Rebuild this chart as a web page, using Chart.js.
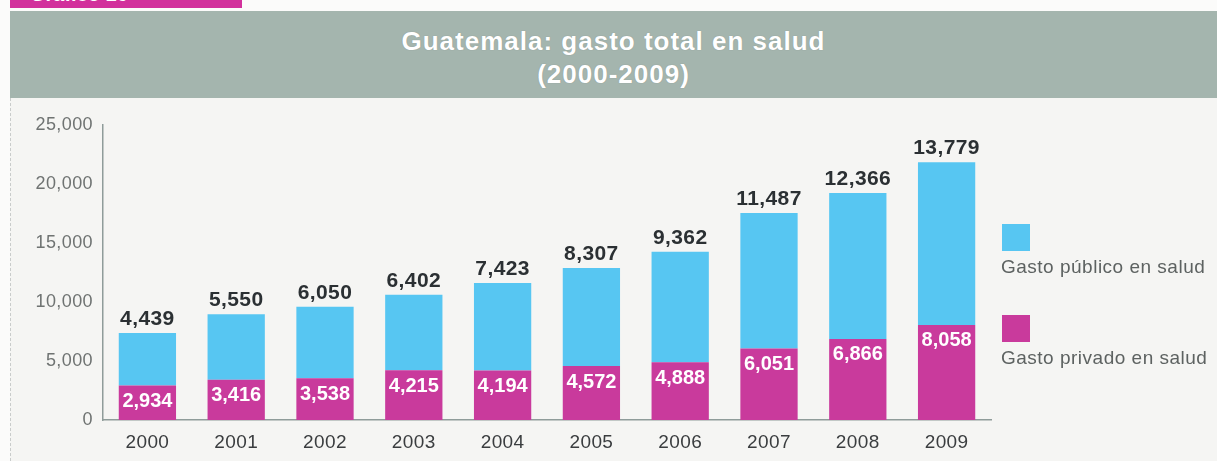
<!DOCTYPE html>
<html>
<head>
<meta charset="utf-8">
<script src="https://cdn.jsdelivr.net/npm/chart.js@4.4.0/dist/chart.umd.min.js"></script>
<style>
  body { margin: 0; width: 1217px; height: 461px; background: #fbfbfa; overflow: hidden;
         font-family: "Liberation Sans", Arial, sans-serif; position: relative; }
  #pestana { position: absolute; left: 10px; top: 0; width: 232px; height: 8px; background: #d2319c; overflow: hidden; }
  #pestana span { position: absolute; left: 20px; top: -17px; color: #fff; font-weight: bold; font-size: 20px; }
  #banda { position: absolute; left: 10px; top: 11px; right: 0; height: 87px; background: #a4b5ae;
           color: #fff; text-align: center; font-weight: bold; font-size: 26px; line-height: 33px;
           letter-spacing: 1px; box-sizing: border-box; padding-top: 14px;
           text-shadow: 0 0 1px rgba(80,80,80,.4); }
  #panel { position: absolute; left: 10px; top: 98px; right: 0; bottom: 0; background: #f5f5f3;
           border-left: 1px dashed #c9cccb; }
  #grafico { position: absolute; left: 0; top: 0; }
</style>
</head>
<body>
<div id="pestana"><span>Gráfico 16</span></div>
<div id="banda">Guatemala: gasto total en salud<br>(2000-2009)</div>
<div id="panel"></div>
<canvas id="grafico" width="1217" height="461"></canvas>
<script>
var anios = ['2000', '2001', '2002', '2003', '2004', '2005', '2006', '2007', '2008', '2009'];
var gastoPrivado = [2934, 3416, 3538, 4215, 4194, 4572, 4888, 6051, 6866, 8058];
var gastoPublico = [4439, 5550, 6050, 6402, 7423, 8307, 9362, 11487, 12366, 13779];
var ejeY = { min: 0, max: 25000, paso: 5000 };

var azul = '#57c6f2';
var magenta = '#c93a9c';
var fuente = '"Liberation Sans", Arial, sans-serif';

function fmt(v) {
    return v.toLocaleString('en-US');
}

// un poco de espacio entre letras en los ejes
var espaciado = {
    id: 'espaciado',
    beforeInit: function(chart) { chart.ctx.letterSpacing = '0.4px'; },
    beforeDraw: function(chart) { chart.ctx.letterSpacing = '0.4px'; }
};

// numeros sobre y dentro de las barras
var etiquetas = {
    id: 'etiquetas',
    afterDatasetsDraw: function(chart) {
        var ctx = chart.ctx;
        ctx.save();
        ctx.textAlign = 'center';
        ctx.textBaseline = 'middle';
        chart.data.datasets.forEach(function(ds, i) {
            var meta = chart.getDatasetMeta(i);
            meta.data.forEach(function(bar, j) {
                if (i == 1) {
                    ctx.letterSpacing = '0.4px';
                    ctx.fillStyle = '#2b3033';
                    ctx.font = 'bold 21px ' + fuente;
                    ctx.fillText(fmt(ds.data[j]), bar.x, bar.y - 14);
                } else {
                    ctx.letterSpacing = '0px';
                    ctx.fillStyle = '#ffffff';
                    ctx.font = 'bold 20px ' + fuente;
                    ctx.fillText(fmt(ds.data[j]), bar.x, bar.y + 16);
                }
            });
        });
        ctx.restore();
    }
};

// leyenda a la derecha: cuadro arriba, texto abajo
var leyenda = {
    id: 'leyenda',
    afterDraw: function(chart) {
        var ctx = chart.ctx;
        var x = chart.chartArea.right + 11;
        var y0 = 224;
        ctx.save();
        ctx.textAlign = 'left';
        ctx.textBaseline = 'middle';
        ctx.letterSpacing = '0.5px';
        ctx.font = '19px ' + fuente;
        var orden = [1, 0];
        orden.forEach(function(idx, k) {
            var ds = chart.data.datasets[idx];
            var y = y0 + k * 91;
            ctx.fillStyle = ds.backgroundColor;
            ctx.fillRect(x, y, 28, 27);
            ctx.fillStyle = '#5d6261';
            ctx.fillText(ds.label, x - 1, y + 44);
        });
        ctx.restore();
    }
};

var ctx = document.getElementById('grafico').getContext('2d');
var grafico = new Chart(ctx, {
    type: 'bar',
    data: {
        labels: anios,
        datasets: [{
            label: 'Gasto privado en salud',
            data: gastoPrivado,
            backgroundColor: magenta,
            barPercentage: 0.645,
            categoryPercentage: 1
        }, {
            label: 'Gasto público en salud',
            data: gastoPublico,
            backgroundColor: azul,
            barPercentage: 0.645,
            categoryPercentage: 1
        }]
    },
    options: {
        responsive: false,
        animation: false,
        layout: { padding: { top: 125, right: 226, bottom: 0, left: 0 } },
        plugins: {
            legend: { display: false },
            tooltip: { enabled: false }
        },
        scales: {
            x: {
                stacked: true,
                grid: { display: false, drawTicks: false },
                border: { display: true, color: '#8f9c9a', width: 1.5 },
                ticks: {
                    color: '#3a3d3f',
                    padding: 11,
                    font: { family: fuente, size: 19 }
                },
                afterFit: function(scale) { scale.height = 41; }
            },
            y: {
                stacked: true,
                min: ejeY.min,
                max: ejeY.max,
                grid: { display: false, drawTicks: false },
                border: { display: true, color: '#8f9c9a', width: 1.5 },
                ticks: {
                    stepSize: ejeY.paso,
                    color: '#6f7372',
                    padding: 10,
                    font: { family: fuente, size: 18 },
                    callback: function(v) { return fmt(v); }
                },
                afterFit: function(scale) { scale.width = 103; }
            }
        }
    },
    plugins: [espaciado, etiquetas, leyenda]
});
</script>
</body>
</html>
